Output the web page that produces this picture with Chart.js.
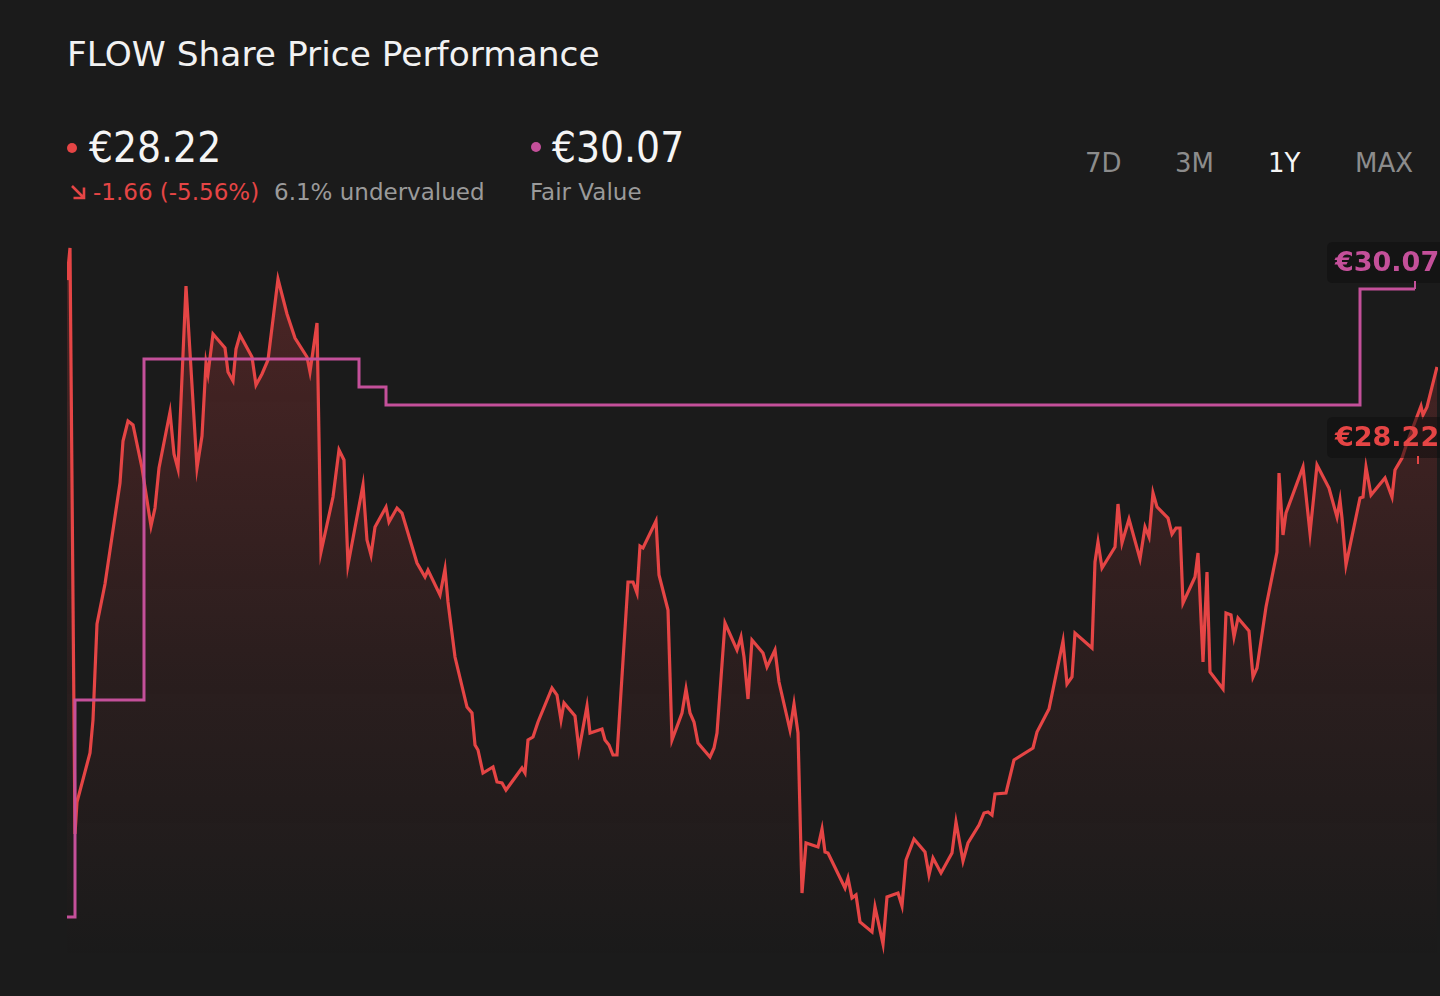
<!DOCTYPE html>
<html>
<head>
<meta charset="utf-8">
<title>FLOW Share Price Performance</title>
<script src="https://cdn.jsdelivr.net/npm/chart.js@4/dist/chart.umd.min.js"></script>
<style>
  html, body { margin: 0; padding: 0; background: #1b1b1b; }
  body { width: 1440px; height: 996px; position: relative; overflow: hidden; font-family: "DejaVu Sans", sans-serif; }
  .t { position: absolute; line-height: 1; white-space: nowrap; }
  #title { left: 67px; top: 37px; font-size: 34.4px; color: #f2f2f2; }
  .big { font-family: "DejaVu Sans Condensed", "DejaVu Sans", sans-serif; font-stretch: condensed; font-size: 42px; color: #f5f5f5; top: 127px; }
  .dot { position: absolute; width: 10px; height: 10px; border-radius: 50%; }
  .sub { font-size: 23px; top: 181px; }
  .tab { font-size: 26px; top: 150px; color: #8c8c8c; }
  #arrow { position: absolute; left: 69px; top: 183px; }
  #chart { position: absolute; left: 0; top: 0; }
</style>
</head>
<body>
<div id="title" class="t">FLOW Share Price Performance</div>

<div class="dot" style="left:67px;top:143px;background:#e54545"></div>
<div class="t big" style="left:89px">€28.22</div>
<svg id="arrow" width="18" height="18" viewBox="0 0 18 18">
  <path d="M3 3 L14.5 14.5 M4.5 15 L15 15 L15 4.5" fill="none" stroke="#e54545" stroke-width="2.6"/>
</svg>
<div class="t sub" style="left:93px;color:#e54545">-1.66 (-5.56%)</div>
<div class="t sub" style="left:274px;color:#9a9a9a">6.1% undervalued</div>

<div class="dot" style="left:531px;top:142px;background:#c4509a"></div>
<div class="t big" style="left:552px">€30.07</div>
<div class="t sub" style="left:530px;color:#9a9a9a">Fair Value</div>

<div class="t tab" style="left:1085px">7D</div>
<div class="t tab" style="left:1175px">3M</div>
<div class="t tab" style="left:1268px;color:#f5f5f5">1Y</div>
<div class="t tab" style="left:1355px">MAX</div>

<canvas id="chart" width="1440" height="996"></canvas>

<script>
// share price, one year (x = trading day, y = price in EUR)
const priceDays = [0, 0.6, 1.6, 2.0, 4.6, 5.2, 6.0, 7.6, 10.6, 11.2, 12.2, 13.2, 15.0, 16.8, 17.6, 18.4, 20.6, 21.4, 22.2, 23.8,
    26.0, 27.0, 27.8, 28.2, 29.2, 31.6, 32.2, 33.2, 33.8, 34.6, 37.0, 37.8, 39.0, 40.2, 42.2, 44.0, 45.6, 48.0, 48.6, 50.0,
    50.8, 53.2, 54.4, 55.4, 56.2, 59.2, 60.0, 60.8, 61.6, 63.8, 64.4, 66.0, 67.0, 70.0, 71.6, 72.2, 74.6, 75.6, 76.2, 77.6,
    80.0, 81.0, 81.6, 82.2, 83.2, 85.2, 86.0, 87.0, 87.8, 91.0, 91.6, 92.2, 93.2, 94.2, 97.0, 98.0, 98.8, 99.4, 101.6, 102.4,
    104.0, 104.6, 107.0, 107.6, 108.4, 109.2, 110.0, 112.2, 113.2, 114.0, 114.6, 115.2, 117.8, 118.4, 120.2, 121.0, 123.0, 123.8, 124.6, 125.4,
    126.2, 128.6, 129.4, 130.0, 131.6, 134.0, 134.8, 135.4, 136.2, 137.0, 139.2, 140.0, 141.6, 142.4, 144.6, 145.4, 146.2, 147.0, 147.8, 150.2,
    151.0, 151.6, 152.2, 155.6, 156.2, 157.0, 157.8, 158.6, 161.0, 161.6, 163.2, 164.0, 166.2, 167.0, 167.8, 169.4, 171.6, 172.4, 173.2, 174.8,
    177.0, 177.8, 179.2, 180.2, 182.4, 183.4, 184.2, 185.0, 185.6, 187.8, 189.4, 193.2, 194.0, 196.4, 199.2, 200.0, 201.0, 201.6, 205.0, 205.6,
    206.2, 207.0, 209.6, 210.2, 211.0, 212.4, 214.6, 215.6, 216.4, 217.2, 218.0, 220.2, 221.0, 221.8, 222.6, 223.2, 225.6, 226.2, 227.2, 228.0,
    228.6, 231.2, 231.8, 232.8, 233.4, 234.2, 236.4, 237.2, 238.0, 239.8, 242.0, 242.4, 243.2, 243.8, 247.2, 248.6, 250.0, 252.4, 254.0, 254.6,
    255.0, 255.8, 258.6, 259.2, 259.8, 260.8, 263.6, 265.0, 265.6, 267.0, 268.0, 270.8, 271.2, 272.0, 274.0];
const priceValues = [30.16, 30.48, 24.62, 24.94, 25.43, 25.76, 26.72, 27.12, 28.13, 28.55, 28.75, 28.71, 28.28, 27.70, 27.88, 28.28, 28.84, 28.42, 28.27, 30.10,
    28.28, 28.60, 29.33, 29.22, 29.62, 29.48, 29.24, 29.15, 29.47, 29.61, 29.39, 29.11, 29.22, 29.36, 30.17, 29.82, 29.58, 29.39, 29.24, 29.73,
    27.44, 27.99, 28.46, 28.36, 27.31, 28.11, 27.56, 27.41, 27.69, 27.89, 27.74, 27.88, 27.83, 27.33, 27.19, 27.26, 27.01, 27.27, 26.94, 26.39,
    25.89, 25.83, 25.51, 25.46, 25.23, 25.29, 25.14, 25.13, 25.06, 25.28, 25.23, 25.56, 25.59, 25.74, 26.08, 26.01, 25.76, 25.93, 25.80, 25.46,
    25.90, 25.63, 25.67, 25.56, 25.51, 25.41, 25.41, 27.14, 27.14, 27.03, 27.50, 27.48, 27.75, 27.21, 26.86, 25.56, 25.83, 26.07, 25.83, 25.74,
    25.53, 25.39, 25.48, 25.63, 26.73, 26.46, 26.59, 26.39, 25.97, 26.56, 26.43, 26.29, 26.46, 26.14, 25.66, 25.92, 25.63, 24.03, 24.53, 24.49,
    24.67, 24.44, 24.43, 24.08, 24.18, 23.98, 24.01, 23.74, 23.64, 23.89, 23.52, 23.99, 24.03, 23.90, 24.36, 24.57, 24.44, 24.21, 24.38, 24.23,
    24.43, 24.74, 24.35, 24.53, 24.71, 24.83, 24.84, 24.81, 25.02, 25.03, 25.36, 25.48, 25.64, 25.87, 26.55, 26.12, 26.19, 26.63, 26.48, 27.34,
    27.54, 27.28, 27.49, 27.92, 27.53, 27.77, 27.37, 27.69, 27.59, 28.03, 27.89, 27.78, 27.62, 27.68, 27.68, 26.93, 27.19, 27.43, 26.34, 27.24,
    26.24, 26.07, 26.83, 26.81, 26.59, 26.78, 26.65, 26.19, 26.28, 26.89, 27.44, 28.23, 27.61, 27.83, 28.29, 27.63, 28.31, 28.08, 27.79, 27.96,
    27.78, 27.31, 27.98, 27.99, 28.29, 28.01, 28.18, 27.99, 28.26, 28.38, 28.53, 28.90, 28.81, 28.89, 29.29];

// fair value estimate, changes in steps
const fairDays = [0, 1.6, 15.4, 58.4, 63.8, 258.6, 269.6];
const fairValues = [23.79, 25.96, 29.37, 29.09, 28.91, 30.07, 30.07];

const currentPrice = 28.22;
const fairValue = 30.07;

const RED = "#e54545";
const PINK = "#c4509a";

const priceData = priceDays.map((d, i) => ({ x: d, y: priceValues[i] }));
const fairData = fairDays.map((d, i) => ({ x: d, y: fairValues[i] }));

function redFill(context) {
    const area = context.chart.chartArea;
    if (!area) return "rgba(229,69,69,0.1)";
    const g = context.chart.ctx.createLinearGradient(0, area.top, 0, area.bottom);
    g.addColorStop(0, "rgba(229,69,69,0.25)");
    g.addColorStop(0.6, "rgba(229,69,69,0.08)");
    g.addColorStop(1, "rgba(229,69,69,0)");
    return g;
}

function roundRect(ctx, x, y, w, h, r) {
    ctx.beginPath();
    ctx.moveTo(x + r, y);
    ctx.lineTo(x + w - r, y);
    ctx.quadraticCurveTo(x + w, y, x + w, y + r);
    ctx.lineTo(x + w, y + h - r);
    ctx.quadraticCurveTo(x + w, y + h, x + w - r, y + h);
    ctx.lineTo(x + r, y + h);
    ctx.quadraticCurveTo(x, y + h, x, y + h - r);
    ctx.lineTo(x, y + r);
    ctx.quadraticCurveTo(x, y, x + r, y);
    ctx.closePath();
}

// value tags on the right edge
const tagPlugin = {
    id: "tags",
    afterDatasetsDraw(chart) {
        const ctx = chart.ctx;
        const ys = chart.scales.y;
        const xs = chart.scales.x;
        const tags = [
            { text: "€" + fairValue.toFixed(2), color: PINK, y: ys.getPixelForValue(fairValue), gap: 6, tickX: xs.getPixelForValue(fairDays[fairDays.length - 1]) },
            { text: "€" + currentPrice.toFixed(2), color: RED, y: ys.getPixelForValue(currentPrice), gap: 16, tickX: xs.getPixelForValue(270.2) }
        ];
        ctx.save();
        for (const t of tags) {
            const bottom = t.y - t.gap;
            const top = bottom - 41;
            ctx.fillStyle = "rgba(14,14,14,0.55)";
            roundRect(ctx, 1327, top, 130, 41, 6);
            ctx.fill();
            ctx.strokeStyle = t.color;
            ctx.lineWidth = 2;
            ctx.beginPath();
            ctx.moveTo(t.tickX, bottom - 2);
            ctx.lineTo(t.tickX, bottom + 6);
            ctx.stroke();
            ctx.fillStyle = t.color;
            ctx.font = "bold 27px 'DejaVu Sans'";
            ctx.textBaseline = "alphabetic";
            ctx.fillText(t.text, 1335, top + 29);
        }
        ctx.restore();
    }
};

new Chart(document.getElementById("chart"), {
    type: "line",
    data: {
        datasets: [
            {
                label: "Fair Value",
                data: fairData,
                borderColor: PINK,
                borderWidth: 3,
                stepped: true,
                pointRadius: 0,
                fill: false
            },
            {
                label: "Share Price",
                data: priceData,
                borderColor: RED,
                backgroundColor: redFill,
                borderWidth: 3.2,
                pointRadius: 0,
                tension: 0,
                fill: "start"
            }
        ]
    },
    options: {
        responsive: false,
        animation: false,
        devicePixelRatio: 1,
        layout: { padding: { left: 67, right: 2, top: 240, bottom: 36 } },
        plugins: { legend: { display: false }, tooltip: { enabled: false } },
        scales: {
            x: { type: "linear", min: 0, max: 274.2, display: false },
            y: { min: 23.36, max: 30.56, display: false }
        }
    },
    plugins: [tagPlugin]
});
</script>
</body>
</html>
